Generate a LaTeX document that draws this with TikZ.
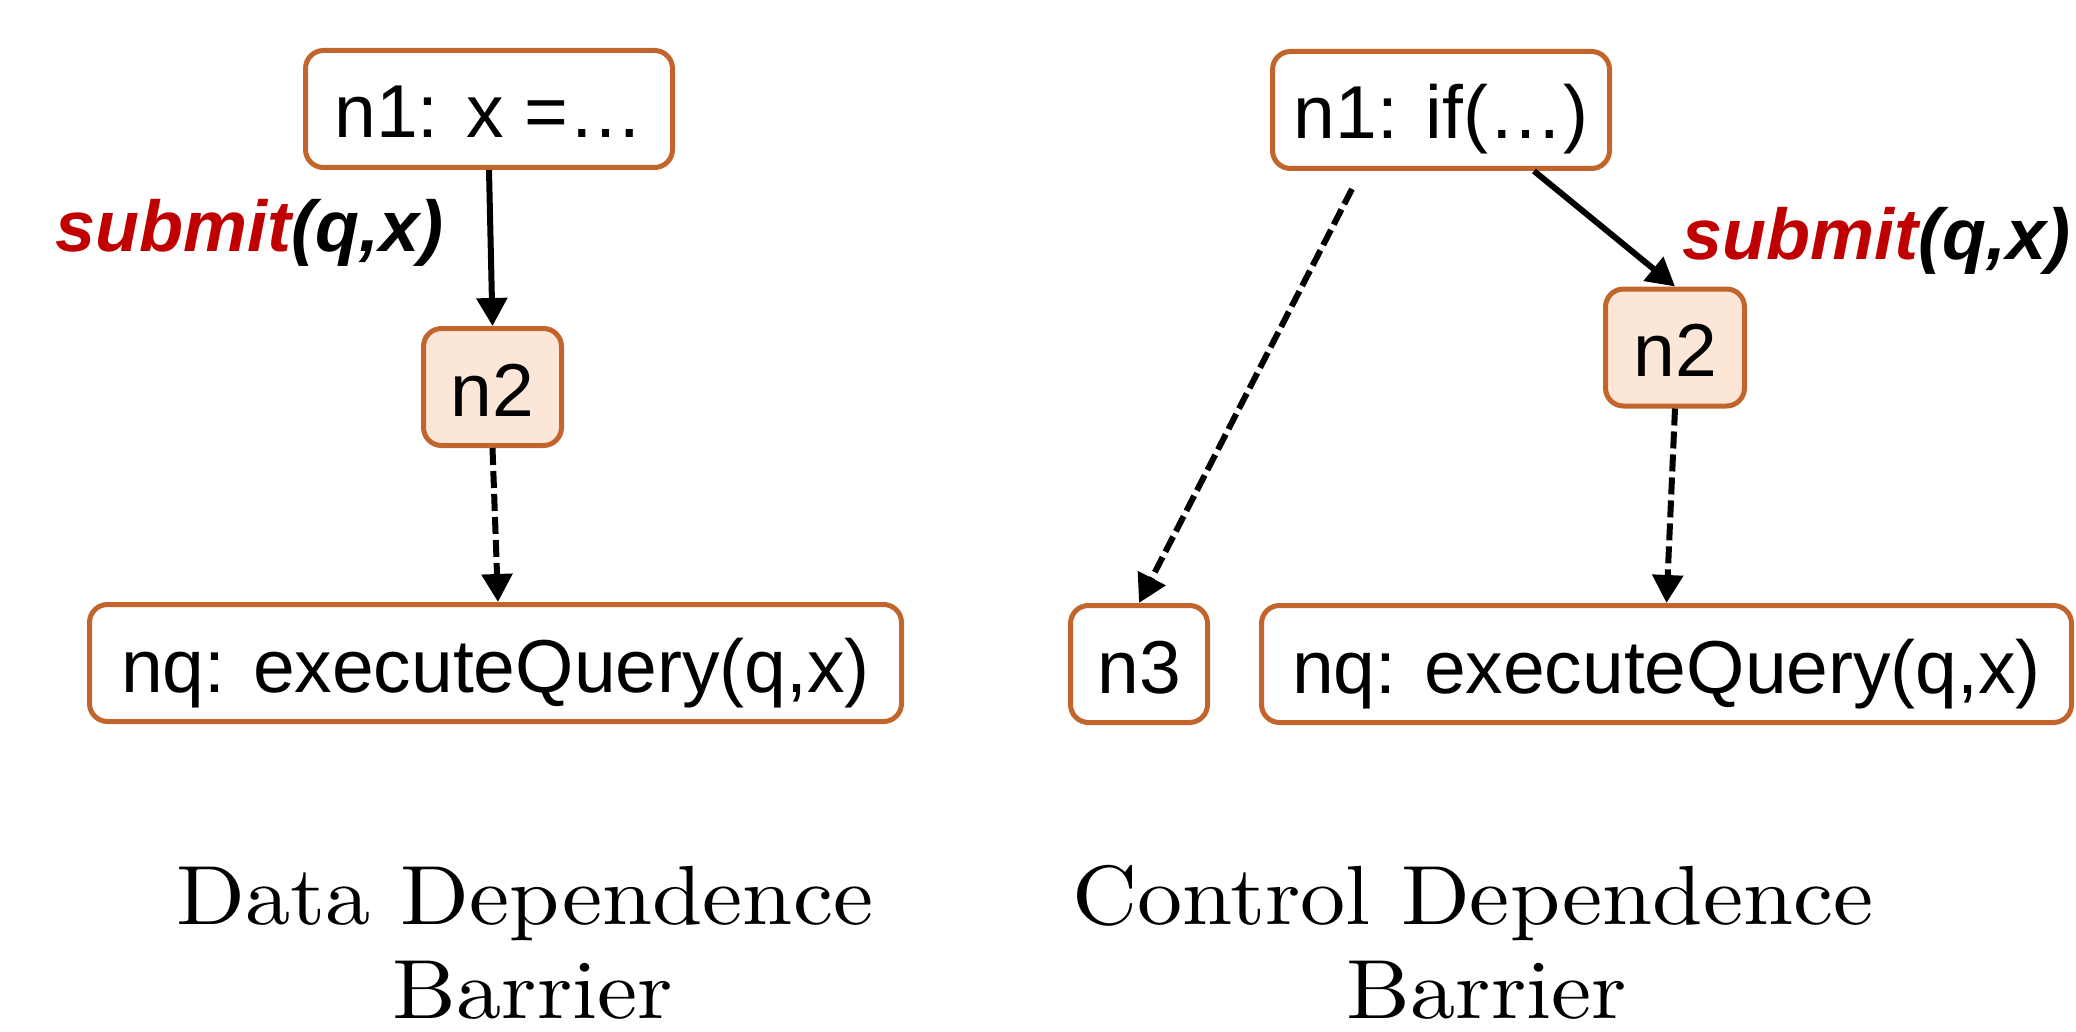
\documentclass[tikz,border=0pt]{standalone}
\usepackage{fontspec}
\newfontfamily\arialf{Liberation Sans}
\newfontfamily\cmten[FakeStretch=1.074]{lmroman10-regular.otf}
\usetikzlibrary{arrows.meta}
\definecolor{boxc}{HTML}{C1652D}
\definecolor{boxfill}{HTML}{FCE6D8}
\definecolor{subred}{HTML}{C00000}
\begin{document}
\begin{tikzpicture}[x=1pt,y=-1pt,
  nbox/.style={draw=boxc, line width=5pt, rounded corners=18pt, fill=white, inner sep=0pt,
    font=\arialf\fontsize{75}{90}\selectfont, text height=58pt, text depth=0pt, minimum height=117pt},
  hl/.style={fill=boxfill},
  conn/.style={line width=6pt, -{Triangle[length=28pt,width=30pt]}},
  dconn/.style={conn, dash pattern=on 17pt off 6pt},
  lbl/.style={font=\arialf\bfseries\itshape\fontsize{72}{86}\selectfont, inner sep=0pt, anchor=base west},
  captxt/.style={font=\cmten\fontsize{84}{100}\selectfont, inner sep=0pt, anchor=base}]
\useasboundingbox (0,0) rectangle (2076,1032);
% left diagram
\node[nbox, minimum width=367pt] (n1L) at (489,109) {n1: x =…};
\node[nbox, hl, minimum width=138pt] (n2L) at (492.5,387) {n2};
\node[nbox, minimum width=812pt] (nqL) at (495.5,663) {nq: executeQuery(q,x)};
\draw[conn] (n1L.south) -- (n2L.north);
\draw[dconn] (n2L.south) -- ([xshift=2.5pt]nqL.north);
\node[lbl] (sL) at (55,252) {\textcolor{subred}{submit}(q,x)};
% right diagram
\node[nbox, minimum width=337pt] (n1R) at (1441,110) {n1: if(…)};
\node[nbox, hl, minimum width=139pt] (n2R) at (1675,347.5) {n2};
\node[nbox, minimum width=137pt] (n3R) at (1139,664) {n3};
\node[nbox, minimum width=810pt] (nqR) at (1666.5,664) {nq: executeQuery(q,x)};
\draw[conn] ([xshift=93pt]n1R.south) -- (n2R.north);
\draw[dconn] ([xshift=-89pt,yshift=-18pt]n1R.south) -- (n3R.north);
\draw[dconn] (n2R.south) -- (nqR.north);
\node[lbl] (sR) at (1682,260) {\textcolor{subred}{submit}(q,x)};
% captions
\node[captxt] (c1a) at (525,924) {Data Dependence};
\node[captxt] (c1b) at (533,1018) {Barrier};
\node[captxt] (c2a) at (1473,924) {Control Dependence};
\node[captxt] (c2b) at (1487,1018) {Barrier};
\end{tikzpicture}
\end{document}
